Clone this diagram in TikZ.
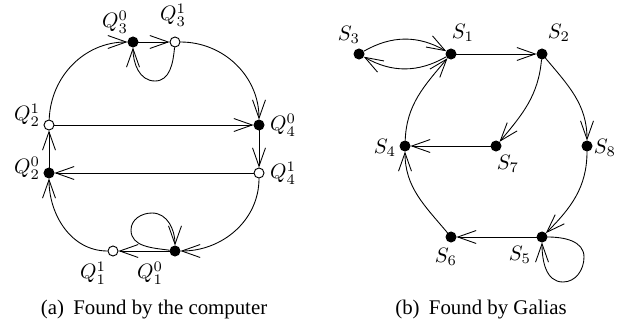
\documentclass[tikz,border=0pt]{standalone}
\usepackage{fontspec}
\setmainfont{Liberation Serif}
\usetikzlibrary{arrows.meta}
\begin{document}
\begin{tikzpicture}[x=0.48pt,y=0.48pt,
  filled/.style={circle,fill=black,draw=black,line width=0.45pt,inner sep=0pt,minimum size=4.8pt},
  hollow/.style={circle,fill=white,draw=black,line width=0.45pt,inner sep=0pt,minimum size=4.8pt},
  edge/.style={-{Straight Barb[length=8.8pt,width=6.2pt]},line width=0.42pt},
  lbl/.style={inner sep=0pt},
  capt/.style={inner sep=0pt,font=\fontsize{10pt}{12pt}\selectfont}]
\useasboundingbox (0,0) rectangle (637,329);
% left graph
\node[filled] (Q30) at (133,287) {};
\node[hollow] (Q31) at (175,287) {};
\node[hollow] (Q21) at (49,204) {};
\node[filled] (Q40) at (259,204) {};
\node[filled] (Q20) at (49,156) {};
\node[hollow] (Q41) at (259,156) {};
\node[hollow] (Q11) at (113,78) {};
\node[filled] (Q10) at (175,78) {};
\node[lbl] (lQ30) at (115,307) {$Q_3^0$};
\node[lbl] (lQ31) at (173,314) {$Q_3^1$};
\node[lbl] (lQ21) at (27,214) {$Q_2^1$};
\node[lbl] (lQ40) at (283,204) {$Q_4^0$};
\node[lbl] (lQ20) at (27,161) {$Q_2^0$};
\node[lbl] (lQ41) at (283,156) {$Q_4^1$};
\node[lbl] (lQ11) at (93,56) {$Q_1^1$};
\node[lbl] (lQ10) at (150,56) {$Q_1^0$};
\draw[edge] (Q30) -- (Q31);
\draw[edge] (Q21) -- (Q40);
\draw[edge] (Q40) -- (Q41);
\draw[edge] (Q41) -- (Q20);
\draw[edge] (Q20) -- (Q21);
\draw[edge] (Q10) -- (Q11);
\draw[edge] (Q21) to[out=88,in=180] (Q30);
\draw[edge] (Q31) to[out=0,in=90] (Q40);
\draw[edge] (Q31) to[out=-95,in=0] (155,248) to[out=180,in=-90] (Q30);
\draw[edge] (Q41) to[out=-90,in=0] (Q10);
\draw[edge] (Q11) to[out=180,in=-90] (Q20);
\draw[edge] (Q10) to[out=172,in=-90] (131,99) to[out=90,in=180] (152,116) to[out=0,in=90] (Q10);
% right graph
\node[filled] (S3) at (359,275) {};
\node[filled] (S1) at (451,275) {};
\node[filled] (S2) at (542,275) {};
\node[filled] (S4) at (405,183) {};
\node[filled] (S7) at (496,183) {};
\node[filled] (S8) at (587,183) {};
\node[filled] (S6) at (451,92) {};
\node[filled] (S5) at (542,92) {};
\node[lbl] (lS3) at (349,294) {$S_3$};
\node[lbl] (lS1) at (463,296) {$S_1$};
\node[lbl] (lS2) at (559,296) {$S_2$};
\node[lbl] (lS4) at (385,181) {$S_4$};
\node[lbl] (lS7) at (508,165) {$S_7$};
\node[lbl] (lS8) at (605,181) {$S_8$};
\node[lbl] (lS6) at (446,72) {$S_6$};
\node[lbl] (lS5) at (520,74) {$S_5$};
\draw[edge] (S3) to[bend left=30] (S1);
\draw[edge] (S1) to[bend left=30] (S3);
\draw[edge] (S1) -- (S2);
\draw[edge] (S4) to[out=88,in=-130] (S1);
\draw[edge] (S2) to[out=-95,in=50] (S7);
\draw[edge] (S2) to[out=-50,in=90] (S8);
\draw[edge] (S7) -- (S4);
\draw[edge] (S8) to[out=-90,in=45] (S5);
\draw[edge] (S5) -- (S6);
\draw[edge] (S6) to[out=130,in=-90] (S4);
\draw[edge] (S5) to[out=0,in=90] (584,72) to[out=-90,in=0] (563,47) to[out=180,in=-90] (S5);
% captions
\node[capt] (ca) at (154,19) {(a)\hspace{4.5pt}Found by the computer};
\node[capt] (cb) at (481,19) {(b)\hspace{4.5pt}Found by Galias};
\end{tikzpicture}
\end{document}
